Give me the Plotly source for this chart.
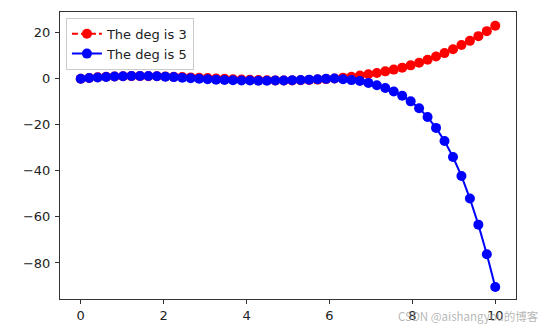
import plotly.graph_objects as go

x_vals = [0.000, 0.204, 0.408, 0.612, 0.816, 1.020, 1.224, 1.429, 1.633, 1.837,
          2.041, 2.245, 2.449, 2.653, 2.857, 3.061, 3.265, 3.469, 3.673, 3.878,
          4.082, 4.286, 4.490, 4.694, 4.898, 5.102, 5.306, 5.510, 5.714, 5.918,
          6.122, 6.327, 6.531, 6.735, 6.939, 7.143, 7.347, 7.551, 7.755, 7.959,
          8.163, 8.367, 8.571, 8.776, 8.980, 9.184, 9.388, 9.592, 9.796, 10.000]

deg3_vals = [-0.19, 0.14, 0.41, 0.62, 0.77, 0.87, 0.93, 0.94, 0.91, 0.86,
             0.77, 0.66, 0.53, 0.38, 0.23, 0.07, -0.10, -0.26, -0.41, -0.56,
             -0.68, -0.79, -0.87, -0.92, -0.94, -0.92, -0.85, -0.74, -0.58, -0.36,
             -0.08, 0.27, 0.69, 1.18, 1.74, 2.30, 3.00, 3.75, 4.60, 5.60,
             6.75, 8.00, 9.40, 10.90, 12.60, 14.40, 16.20, 18.25, 20.40, 22.77]

deg5_vals = [-0.20, 0.10, 0.35, 0.55, 0.75, 0.85, 0.95, 1.00, 0.95, 0.85,
             0.70, 0.50, 0.25, 0.00, -0.20, -0.40, -0.60, -0.75, -0.85, -0.95,
             -1.00, -1.05, -1.05, -1.00, -0.95, -0.85, -0.75, -0.60, -0.45, -0.25,
             -0.10, -0.40, -0.80, -1.20, -2.00, -3.00, -4.20, -5.70, -7.60, -10.00,
             -13.00, -16.80, -21.50, -27.20, -34.10, -42.30, -52.10, -63.40, -76.20, -90.40]

series_names = ["The deg is 3", "The deg is 5"]
x_ticks = [0, 2, 4, 6, 8, 10]
y_ticks = [-80, -60, -40, -20, 0, 20]
y_tick_text = ["\u221280", "\u221260", "\u221240", "\u221220", "0", "20"]
watermark = "CSDN @aishangyou\u7684\u535a\u5ba2"

fig = go.Figure()
fig.add_trace(go.Scatter(
    x=x_vals, y=deg3_vals, name=series_names[0], mode="lines+markers",
    line=dict(color="#ff0000", width=2, dash="6px,3px"),
    marker=dict(color="#ff0000", size=10),
))
fig.add_trace(go.Scatter(
    x=x_vals, y=deg5_vals, name=series_names[1], mode="lines+markers",
    line=dict(color="#0000ff", width=2),
    marker=dict(color="#0000ff", size=10),
))

axis_common = dict(
    showline=True, mirror=True, linecolor="#333333", linewidth=1,
    ticks="outside", ticklen=4, tickcolor="#333333", tickwidth=1,
    showgrid=False, zeroline=False,
    tickfont=dict(family="DejaVu Sans", size=13, color="#222222"),
)

fig.update_xaxes(range=[-0.5, 10.5], tickvals=x_ticks,
                 ticktext=[str(v) for v in x_ticks], **axis_common)
fig.update_yaxes(range=[-95.6, 28.7], tickvals=y_ticks,
                 ticktext=y_tick_text, ticklabelstandoff=2, **axis_common)

fig.update_layout(
    width=550, height=334,
    margin=dict(l=60, r=34, t=11, b=26, pad=0),
    plot_bgcolor="white", paper_bgcolor="white",
    showlegend=True,
    legend=dict(
        x=0.013, y=0.98, xanchor="left", yanchor="top",
        bgcolor="rgba(255,255,255,0.8)", bordercolor="#cccccc", borderwidth=1,
        font=dict(family="DejaVu Sans", size=13, color="#222222"),
        tracegroupgap=0, itemwidth=30,
    ),
    annotations=[dict(
        text=watermark, xref="paper", yref="paper", x=1.055, y=-0.025,
        xanchor="right", yanchor="top", showarrow=False,
        font=dict(family="Noto Sans CJK SC", size=11.5, color="rgba(150,150,150,0.7)"),
    )],
)

fig.write_html("out.html")
